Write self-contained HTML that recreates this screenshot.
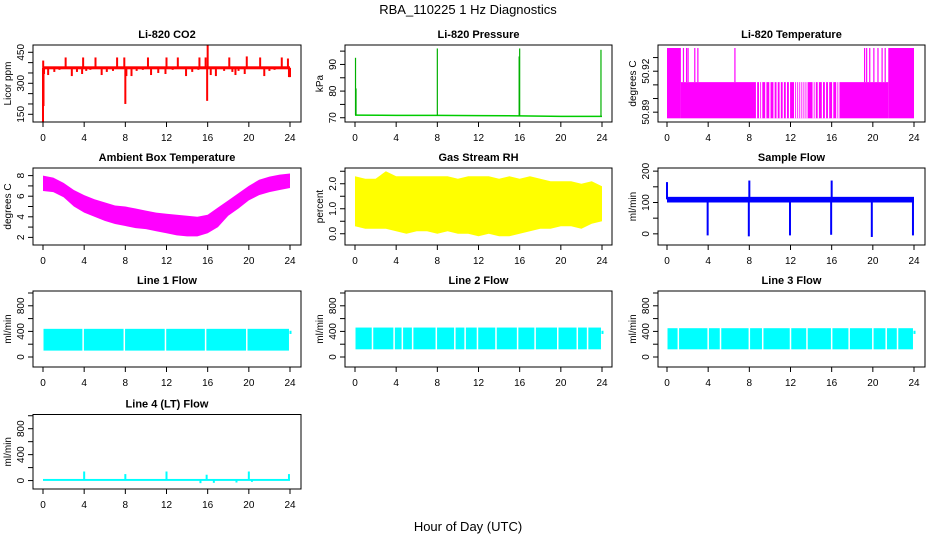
<!DOCTYPE html>
<html><head><meta charset="utf-8"><style>
body{margin:0;background:#fff;}
svg{display:block;font-family:"Liberation Sans",Arial,sans-serif;}
</style></head><body>
<svg id="c" width="936" height="540" viewBox="0 0 936 540">
<text x="468" y="14" text-anchor="middle" font-size="13">RBA_110225  1 Hz Diagnostics</text>
<text x="468" y="531" text-anchor="middle" font-size="13">Hour of Day (UTC)</text>
</svg>
<script>
// ---- data ----
const xTicks = [0,4,8,12,16,20,24];
const co2Base = 375;
const co2Spikes = [[0.0,115],[0.05,190],[0.02,410],[2.2,425],[3.9,425],[5.1,425],[7.2,425],[7.9,425],[8.0,200],[10.2,425],[12.0,425],[13.1,425],[15.2,425],[15.8,425],[16.0,485],[15.95,215],[18.1,425],[19.8,430],[21.1,425],[23.2,425],[23.8,420],
 [0.1,345],[0.5,340],[1.1,355],[1.6,365],[2.8,335],[3.3,355],[3.8,345],[4.2,360],[4.6,365],[5.7,340],[6.2,355],[6.8,360],[8.1,335],[8.6,335],[9.1,360],[9.7,365],[10.5,340],[11.2,350],[11.9,345],[12.6,365],[13.9,335],[14.5,355],[15.1,365],[16.3,340],[16.8,335],[17.6,360],[18.4,355],[18.7,340],[19.0,360],[19.6,345],[21.5,335],[22.0,360],[22.5,365],[23.9,330],[24.0,330]];
const presHours = [0,4,8,12,16,20,24];
const presBase = [71.0,70.9,70.9,70.8,70.7,70.5,70.5];
const presSpikes = [[0.05,92.5],[0.1,81],[8.0,96],[15.95,93],[16.0,96],[23.9,95.5]];
const tempLow = 50.8855;
const tempRuns = [[0,1.35,50.937],[1.35,21.5,50.912],[21.5,24,50.937]];
const tempHighSpikes = [1.6,1.9,2.05,2.7,3.0,6.6,19.2,19.4,19.7,20.1,20.5,20.9,21.2];
const tempLowGaps = [8.7,9.0,9.2,9.6,10.0,10.4,10.7,11.0,11.3,11.6,11.9,12.4,12.6,12.8,13.0,13.2,13.4,13.6,14.2,14.4,14.7,15.1,15.4,15.7,16.1,16.5,16.7];
const hrs = [0,1,2,3,4,5,6,7,8,9,10,11,12,13,14,15,16,17,18,19,20,21,22,23,24];
const ambMin = [6.5,6.4,5.9,5.0,4.4,4.0,3.6,3.3,3.1,2.9,2.8,2.6,2.4,2.2,2.1,2.1,2.4,3.0,4.1,4.8,5.6,6.1,6.4,6.6,6.8];
const ambMax = [8.0,7.8,7.3,6.6,6.1,5.7,5.4,5.1,5.0,4.8,4.6,4.4,4.3,4.2,4.1,4.0,4.2,4.9,5.6,6.3,7.0,7.6,7.9,8.1,8.2];
const rhMin = [0.3,0.2,0.2,0.2,0.1,0.0,0.1,0.1,0.0,0.1,0.0,0.0,-0.1,0.0,-0.1,-0.1,0.0,0.1,0.2,0.2,0.3,0.3,0.2,0.4,0.5];
const rhMax = [2.3,2.2,2.2,2.5,2.3,2.3,2.3,2.3,2.3,2.3,2.2,2.3,2.3,2.3,2.2,2.3,2.2,2.3,2.2,2.1,2.1,2.1,2.0,2.1,1.9];
const sfMin = 100, sfMax = 118;
const sfSpikes = [[0.0,165],[3.95,-5],[7.95,-8],[8.0,170],[11.95,-5],[15.95,-3],[16.0,170],[19.9,-10],[23.9,-5]];
const l1Min = 100, l1Max = 440;
const l1Gaps = [3.9,7.9,11.9,15.8,19.8];
const l2Min = 120, l2Max = 460;
const l2Gaps = [1.7,3.8,4.6,5.6,7.9,9.7,10.7,11.9,13.7,15.8,17.5,19.7,21.6,22.6];
const l3Min = 120, l3Max = 450;
const l3Gaps = [1.1,4.0,5.2,8.0,9.3,12.0,13.6,16.0,17.7,20.0,21.3,22.4];
const l4Base = 10;
const l4Spikes = [[4.0,140],[8.0,100],[12.0,140],[15.3,-40],[15.9,90],[16.6,-35],[18.8,-30],[20.0,140],[20.3,-20],[23.9,100]];

// ---- layout ----
const NS='http://www.w3.org/2000/svg';
const svg=document.getElementById('c');
const colL=[33,345,658], colR=[301,612,925], colX0=[43,355,667], colX24=[290,602,914];
const rowT=[45,168,291,414.5], rowB=[122,245,367,489];
function mk(tag,attrs,parent){const e=document.createElementNS(NS,tag);for(const k in attrs)e.setAttribute(k,attrs[k]);(parent||svg).appendChild(e);return e;}

function panel(cfg){
  const g=mk('g',{});
  
  
  const L=colL[cfg.col],R=colR[cfg.col],T=rowT[cfg.row],B=rowB[cfg.row];
  const xs=h=>colX0[cfg.col]+(colX24[cfg.col]-colX0[cfg.col])*h/24;
  const ys=v=>B-(v-cfg.yLo)/(cfg.yHi-cfg.yLo)*(B-T);
  const clipId='clip'+cfg.name;
  const cp=mk('clipPath',{id:clipId},g);mk('rect',{x:L,y:T,width:R-L,height:B-T},cp);
  const dg=mk('g',{'clip-path':'url(#'+clipId+')'},g);
  
  
  cfg.draw(dg,xs,ys);
  const box=mk('rect',{x:L,y:T,width:R-L,height:B-T,fill:'none',stroke:'#000','stroke-width':1},g);
  
  
  const t=mk('text',{x:(L+R)/2,y:T-7,'text-anchor':'middle','font-size':11,'font-weight':'bold'},g);
  t.textContent=cfg.title;
  
  
  xTicks.forEach(h=>{
    mk('line',{x1:xs(h),x2:xs(h),y1:B,y2:B+5,stroke:'#000'},g);
    const tx=mk('text',{x:xs(h),y:B+19,'text-anchor':'middle','font-size':10},g);
    tx.textContent=h;
    
    
  });
  cfg.yTicks.forEach(v=>{mk('line',{x1:L,x2:L-5,y1:ys(v),y2:ys(v),stroke:'#000'},g);});
  cfg.yLabels.forEach(v=>{
    const y=ys(v);
    const tx=mk('text',{x:L-9,y:y,'text-anchor':'middle','font-size':10,transform:'rotate(-90 '+(L-9)+' '+y+')'},g);
    tx.textContent=cfg.fmt?cfg.fmt(v):v;
    
    
  });
  const ym=(T+B)/2;
  const yl=mk('text',{x:L-22,y:ym,'text-anchor':'middle','font-size':10,transform:'rotate(-90 '+(L-22)+' '+ym+')'},g);
  yl.textContent=cfg.ylab;
  
  
}
function band(g,xs,ys,hs,mins,maxs,color){
  let d='M'+hs.map((h,i)=>xs(h)+','+ys(maxs[i])).join('L');
  for(let i=hs.length-1;i>=0;i--)d+='L'+xs(hs[i])+','+ys(mins[i]);
  mk('path',{d:d+'Z',fill:color},g);
}
function vline(g,x,y1,y2,color,w){mk('line',{x1:x,x2:x,y1:y1,y2:y2,stroke:color,'stroke-width':w||1.5},g);}
function flowPanel(name,title,col,row,mn,mx,gaps,color,extraEnd){
  panel({name,title,col,row,yLo:-156,yHi:1031,yTicks:[0,200,400,600,800,1000],yLabels:[0,400,800],ylab:'ml/min',
   draw:(g,xs,ys)=>{
    mk('rect',{x:xs(0.05),y:ys(mx),width:xs(23.9)-xs(0.05),height:ys(mn)-ys(mx),fill:color},g);
    gaps.forEach(h=>vline(g,xs(h),ys(mx)-2,ys(mn)+2,'#fff',1.5));
    mk('rect',{x:xs(23.95),y:ys(410),width:2,height:ys(360)-ys(410),fill:color},g);
   }});
}

panel({name:'co2-panel',title:'Li-820 CO2',col:0,row:0,yLo:112.7,yHi:485.3,yTicks:[150,200,250,300,350,400,450],yLabels:[150,300,450],ylab:'Licor ppm',
 draw:(g,xs,ys)=>{
  co2Spikes.forEach(s=>vline(g,xs(s[0]),ys(co2Base),ys(s[1]),'#f00',2));
  mk('rect',{x:xs(0),y:ys(co2Base)-1.5,width:xs(24)-xs(0),height:3,fill:'#f00'},g);
 }});
panel({name:'pressure-panel',title:'Li-820 Pressure',col:1,row:0,yLo:68.4,yHi:97.3,yTicks:[70,75,80,85,90,95],yLabels:[70,80,90],ylab:'kPa',
 draw:(g,xs,ys)=>{
  mk('polyline',{points:presHours.map((h,i)=>xs(h)+','+ys(presBase[i])).join(' '),fill:'none',stroke:'#00cc00','stroke-width':1.5},g);
  presSpikes.forEach(s=>{
    const i=Math.min(presHours.length-1,Math.round(s[0]/4));
    vline(g,xs(s[0]),ys(presBase[i]),ys(s[1]),'#00b000',1.2);
  });
 }});
panel({name:'li820-temperature-panel',title:'Li-820 Temperature',col:2,row:0,yLo:50.8828,yHi:50.9392,yTicks:[50.89,50.90,50.91,50.92,50.93],yLabels:[50.89,50.92],fmt:v=>v.toFixed(2),ylab:'degrees C',
 draw:(g,xs,ys)=>{
  tempRuns.forEach(r=>mk('rect',{x:xs(r[0]),y:ys(r[2]),width:xs(r[1])-xs(r[0]),height:ys(tempLow)-ys(r[2]),fill:'#f0f'},g));
  tempHighSpikes.forEach(h=>vline(g,xs(h),ys(50.912),ys(50.937),'#f0f',1.2));
  tempLowGaps.forEach(h=>vline(g,xs(h),ys(50.912)-1,ys(tempLow),'#fff',1.2));
 }});
panel({name:'ambient-temperature-panel',title:'Ambient Box Temperature',col:0,row:1,yLo:1.26,yHi:8.74,yTicks:[2,3,4,5,6,7,8],yLabels:[2,4,6,8],ylab:'degrees C',
 draw:(g,xs,ys)=>band(g,xs,ys,hrs,ambMin,ambMax,'#f0f')});
panel({name:'gas-rh-panel',title:'Gas Stream RH',col:1,row:1,yLo:-0.45,yHi:2.63,yTicks:[0,0.5,1,1.5,2,2.5],yLabels:[0,1,2],fmt:v=>v.toFixed(1),ylab:'percent',
 draw:(g,xs,ys)=>band(g,xs,ys,hrs,rhMin,rhMax,'#ff0')});
panel({name:'sample-flow-panel',title:'Sample Flow',col:2,row:1,yLo:-35.6,yHi:210,yTicks:[0,50,100,150,200],yLabels:[0,100,200],ylab:'ml/min',
 draw:(g,xs,ys)=>{
  mk('rect',{x:xs(0),y:ys(sfMax),width:xs(24)-xs(0),height:ys(sfMin)-ys(sfMax),fill:'#00f'},g);
  sfSpikes.forEach(s=>vline(g,xs(s[0]),ys(110),ys(s[1]),'#00f',2));
 }});
flowPanel('line1-flow-panel','Line 1 Flow',0,2,l1Min,l1Max,l1Gaps,'#0ff');
flowPanel('line2-flow-panel','Line 2 Flow',1,2,l2Min,l2Max,l2Gaps,'#0ff');
flowPanel('line3-flow-panel','Line 3 Flow',2,2,l3Min,l3Max,l3Gaps,'#0ff');
panel({name:'line4-flow-panel',title:'Line 4 (LT) Flow',col:0,row:3,yLo:-130,yHi:1019,yTicks:[0,200,400,600,800,1000],yLabels:[0,400,800],ylab:'ml/min',
 draw:(g,xs,ys)=>{
  mk('rect',{x:xs(0),y:ys(l4Base+15),width:xs(24)-xs(0),height:ys(l4Base-15)-ys(l4Base+15),fill:'#0ff'},g);
  l4Spikes.forEach(s=>vline(g,xs(s[0]),ys(l4Base),ys(s[1]),'#0ff',2));
 }});
</script>
</body></html>
